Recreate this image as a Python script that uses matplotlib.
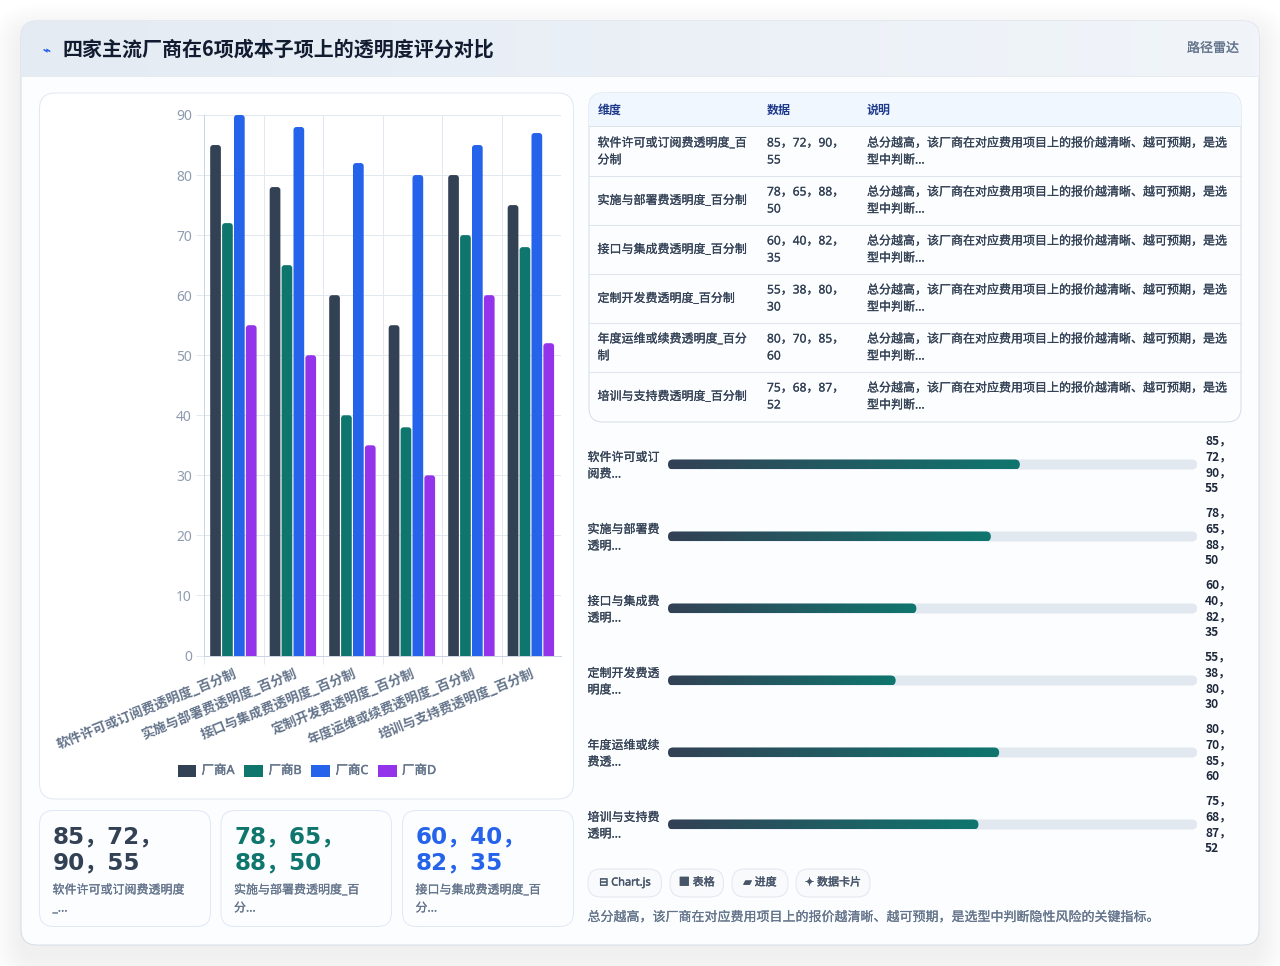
import numpy as np
import matplotlib
matplotlib.use("Agg")
import matplotlib.pyplot as plt
import matplotlib.patheffects as pe
from matplotlib.colors import LinearSegmentedColormap
from matplotlib.patches import FancyBboxPatch, Rectangle

BODY_FONT = ['Noto Sans', 'Noto Sans CJK SC', 'DejaVu Sans']
BOLD_FONT = ['Noto Sans CJK SC', 'DejaVu Sans']
BIG_FONT = ['DejaVu Sans', 'Noto Sans CJK SC']
plt.rcParams['font.family'] = BODY_FONT

TITLE = "四家主流厂商在6项成本子项上的透明度评分对比"
dimensions = ["软件许可或订阅费透明度_百分制", "实施与部署费透明度_百分制", "接口与集成费透明度_百分制",
              "定制开发费透明度_百分制", "年度运维或续费透明度_百分制", "培训与支持费透明度_百分制"]
vendors = ["厂商A", "厂商B", "厂商C", "厂商D"]
vendor_a = [85, 78, 60, 55, 80, 75]
vendor_b = [72, 65, 40, 38, 70, 68]
vendor_c = [90, 88, 82, 80, 85, 87]
vendor_d = [55, 50, 35, 30, 60, 52]
vendor_colors = ["#334155", "#0f766e", "#2563eb", "#9333ea"]
y_ticks = [0, 10, 20, 30, 40, 50, 60, 70, 80, 90]
table_dim_lines = [["软件许可或订阅费透明度_百", "分制"], ["实施与部署费透明度_百分制"], ["接口与集成费透明度_百分制"],
                   ["定制开发费透明度_百分制"], ["年度运维或续费透明度_百分", "制"], ["培训与支持费透明度_百分制"]]
note_lines = ["总分越高，该厂商在对应费用项目上的报价越清晰、越可预期，是选", "型中判断..."]
progress_labels = [["软件许可或订", "阅费..."], ["实施与部署费", "透明..."], ["接口与集成费", "透明..."],
                   ["定制开发费透", "明度..."], ["年度运维或续", "费透..."], ["培训与支持费", "透明..."]]
card_labels = [["软件许可或订阅费透明度", "_..."], ["实施与部署费透明度_百", "分..."], ["接口与集成费透明度_百", "分..."]]
chips = ["⊟ Chart.js", "■ 表格", "▰ 进度", "✦ 数据卡片"]
FOOTER = "总分越高，该厂商在对应费用项目上的报价越清晰、越可预期，是选型中判断隐性风险的关键指标。"

W, H = 1280, 966
GRID = "#e2e8f0"
LW = 0.72
series = [vendor_a, vendor_b, vendor_c, vendor_d]
groups = list(zip(vendor_a, vendor_b, vendor_c, vendor_d))


def pix_axes(fig, left, top, right, bottom, **kw):
    return fig.add_axes([left / W, 1 - bottom / H, (right - left) / W, (bottom - top) / H], **kw)


def rbox(ax, x0, y0, x1, y1, r, fc, ec="none", lw=0, z=1, alpha=None):
    p = FancyBboxPatch((x0, y0), x1 - x0, y1 - y0, boxstyle=f"round,pad=0,rounding_size={r}",
                       fc=fc, ec=ec, lw=lw, zorder=z, alpha=alpha)
    ax.add_patch(p)
    return p


def label(ax, x, y, s, size, color, weight="normal", ha="left", z=10, stroke=0.15, family=None):
    if family is None:
        family = BOLD_FONT if weight == "bold" else BODY_FONT
    t = ax.text(x, y, s, fontsize=size * 0.72, color=color, fontweight=weight, ha=ha, va="center", zorder=z,
                family=family)
    # regular weight renders thin at this size, thicken it a little
    if weight == "normal" and stroke:
        t.set_path_effects([pe.withStroke(linewidth=stroke, foreground=color)])
    return t


fig = plt.figure(figsize=(W / 100, H / 100), dpi=100, facecolor="white")

# page layer: card, header and panels
bg = fig.add_axes([0, 0, 1, 1])
bg.set_xlim(0, W)
bg.set_ylim(H, 0)
bg.axis("off")

for grow in range(1, 30, 2):
    rbox(bg, 21 - grow, 21 - grow + 12, 1259 + grow, 945 + grow + 12, 16 + grow, "#0f172a", z=0, alpha=0.0045)
card = rbox(bg, 21, 21, 1259, 945, 16, "#fcfdff", ec="#d5dde8", lw=LW, z=1)

head = bg.imshow(np.linspace(0, 1, 256).reshape(1, -1), extent=(21, 1259, 76, 21), aspect="auto", zorder=2,
                 cmap=LinearSegmentedColormap.from_list("head", ["#e4ebf3", "#f1f5fa"]))
head.set_clip_path(card)
bg.plot([21, 1259], [76, 76], color="#e6ebf2", lw=LW, zorder=3)
bg.set_xlim(0, W)
bg.set_ylim(H, 0)

label(bg, 47, 51, "⌁", 13, "#2563eb", ha="center")
label(bg, 62, 49.5, TITLE, 20, "#111c30", weight="bold")
label(bg, 1239, 48.5, "路径雷达", 13, "#64748b", ha="right")

rbox(bg, 39.5, 93, 573.5, 799, 16, "white", ec="#e2e8f0", lw=LW, z=2)

# summary cards
card_x = [(39.5, 210.5), (221, 391.5), (402.5, 573.5)]
for i, (x0, x1) in enumerate(card_x):
    rbox(bg, x0, 810.5, x1, 926.5, 14, "#fbfdff", ec="#dfe9f5", lw=LW, z=2)
    g = groups[i]
    label(bg, x0 + 13.5, 837, f"{g[0]}，{g[1]}，", 23, vendor_colors[i], weight="bold", family=BIG_FONT)
    label(bg, x0 + 13.5, 863, f"{g[2]}，{g[3]}", 23, vendor_colors[i], weight="bold", family=BIG_FONT)
    label(bg, x0 + 13, 890, card_labels[i][0], 12, "#64748b")
    label(bg, x0 + 13, 908, card_labels[i][1], 12, "#64748b")

# table
table = rbox(bg, 589, 93, 1241, 422, 14, "#fcfdff", ec="#d5deea", lw=LW, z=2)
thead = bg.add_patch(Rectangle((589, 93), 652, 33, fc="#f0f7ff", ec="none", zorder=3))
thead.set_clip_path(table)
for yy in [126, 175.5, 224.5, 273.5, 322.5, 371.5]:
    bg.plot([589, 1241], [yy, yy], color="#dde4ee", lw=LW, zorder=4)
for cx, s in zip([597.5, 767, 867], ["维度", "数据", "说明"]):
    label(bg, cx, 110, s, 12, "#1e3a8a", weight="bold")
for i, g in enumerate(groups):
    mid = 151.5 + 49 * i
    lines = table_dim_lines[i]
    for k, s in enumerate(lines):
        label(bg, 597.5, mid + (k - (len(lines) - 1) / 2) * 17, s, 12, "#334155")
    label(bg, 767, mid - 8.5, f"{g[0]}，{g[1]}，{g[2]}，", 12, "#334155")
    label(bg, 767, mid + 8.5, f"{g[3]}", 12, "#334155")
    label(bg, 867, mid - 8.5, note_lines[0], 12, "#334155")
    label(bg, 867, mid + 8.5, note_lines[1], 12, "#334155")

# chips and footer
chip_x = [(588, 661.5), (670, 723.5), (732, 788), (796, 870)]
for (x0, x1), s in zip(chip_x, chips):
    rbox(bg, x0, 869, x1, 897, 13, "#f8fafc", ec="#e2e8f0", lw=LW, z=2)
    label(bg, (x0 + x1) / 2, 883, s, 11, "#475569", ha="center", stroke=0.3)
label(bg, 587.5, 917.5, FOOTER, 13, "#64748b")

# grouped bars
ax = pix_axes(fig, 204, 115, 561, 655.5)
ax.patch.set_alpha(0)
ax.set_xlim(0, len(dimensions))
ax.set_ylim(0, 90)
ax.set_axisbelow(True)
ax.grid(True, color=GRID, lw=LW)
ax.set_yticks(y_ticks)
ax.set_xticks(range(len(dimensions)))
ax.set_xticklabels([])
ax.tick_params(axis="x", length=7.5 * 0.72, color=GRID, width=LW)
ax.tick_params(axis="y", length=8 * 0.72, color=GRID, width=LW, pad=3, labelcolor="#8f9cb0", labelsize=10)
ax.set_xticks([i + 0.5 for i in range(len(dimensions))], minor=True)
ax.set_xticklabels(dimensions, minor=True, rotation=22, ha="right", rotation_mode="anchor", va="top",
                   fontsize=9.5, color="#64748b", fontweight="bold", family=BOLD_FONT)
ax.tick_params(axis="x", which="minor", length=0, pad=8)
for name in ["top", "right"]:
    ax.spines[name].set_visible(False)
for name in ["left", "bottom"]:
    ax.spines[name].set_color("#cbd5e1")
    ax.spines[name].set_linewidth(LW)

bar_w = 0.8 / 4
px_x = 357 / 6
px_y = 540.5 / 90
for s, values in enumerate(series):
    for i, v in enumerate(values):
        # rounded box running below the baseline so only the top corners show
        p = FancyBboxPatch((i + 0.1 + s * bar_w + 0.004, -3), bar_w - 0.008 - 0.012, v + 3,
                           boxstyle="round,pad=0,rounding_size=0.05", mutation_aspect=px_x / px_y,
                           fc=vendor_colors[s], ec="none", zorder=3)
        ax.add_patch(p)

# legend built from proxies
leg_x = [(178, 196, 201.5), (244, 263, 268.5), (311, 330, 335.5), (378, 397, 402)]
for (x0, x1, tx), name, col in zip(leg_x, vendors, vendor_colors):
    bg.add_patch(Rectangle((x0, 765), x1 - x0, 12, fc=col, ec="none", zorder=5))
    label(bg, tx, 770.5, name, 12.5, "#64748b", stroke=0.3)

# progress rows on a shared value scale
pr = pix_axes(fig, 668, 428.5, 1197, 860.5)
pr.patch.set_alpha(0)
pr.axis("off")
fill_max = 127.8
pr_x = 529 / fill_max
pr_y = 72.0
h = 10 / pr_y
r = 5 / pr_x
grad = LinearSegmentedColormap.from_list("fill", ["#334155", "#0f766e"])
for i, v in enumerate(vendor_a):
    rb = FancyBboxPatch((0, i - h / 2), fill_max, h, boxstyle=f"round,pad=0,rounding_size={r}",
                        mutation_aspect=pr_x / pr_y, fc=GRID, ec="none", zorder=1)
    pr.add_patch(rb)
    fb = FancyBboxPatch((0, i - h / 2), v, h, boxstyle=f"round,pad=0,rounding_size={r}",
                        mutation_aspect=pr_x / pr_y, fc="none", ec="none", zorder=2)
    pr.add_patch(fb)
    im = pr.imshow(np.linspace(0, 1, 256).reshape(1, -1), extent=(0, v, i + h / 2, i - h / 2), aspect="auto",
                   cmap=grad, zorder=2)
    im.set_clip_path(fb)
pr.set_xlim(0, fill_max)
pr.set_ylim(5.5, -0.5)

for i, g in enumerate(groups):
    mid = 464.5 + 72 * i
    label(bg, 587.5, mid - 7, progress_labels[i][0], 12, "#334155")
    label(bg, 587.5, mid + 9.5, progress_labels[i][1], 12, "#334155")
    for k, s in enumerate([f"{g[0]}，", f"{g[1]}，", f"{g[2]}，", f"{g[3]}"]):
        label(bg, 1205, mid - 23.5 + 16 * k, s, 12, "#1e293b", weight="bold")

fig.savefig("out.png", dpi=100)
